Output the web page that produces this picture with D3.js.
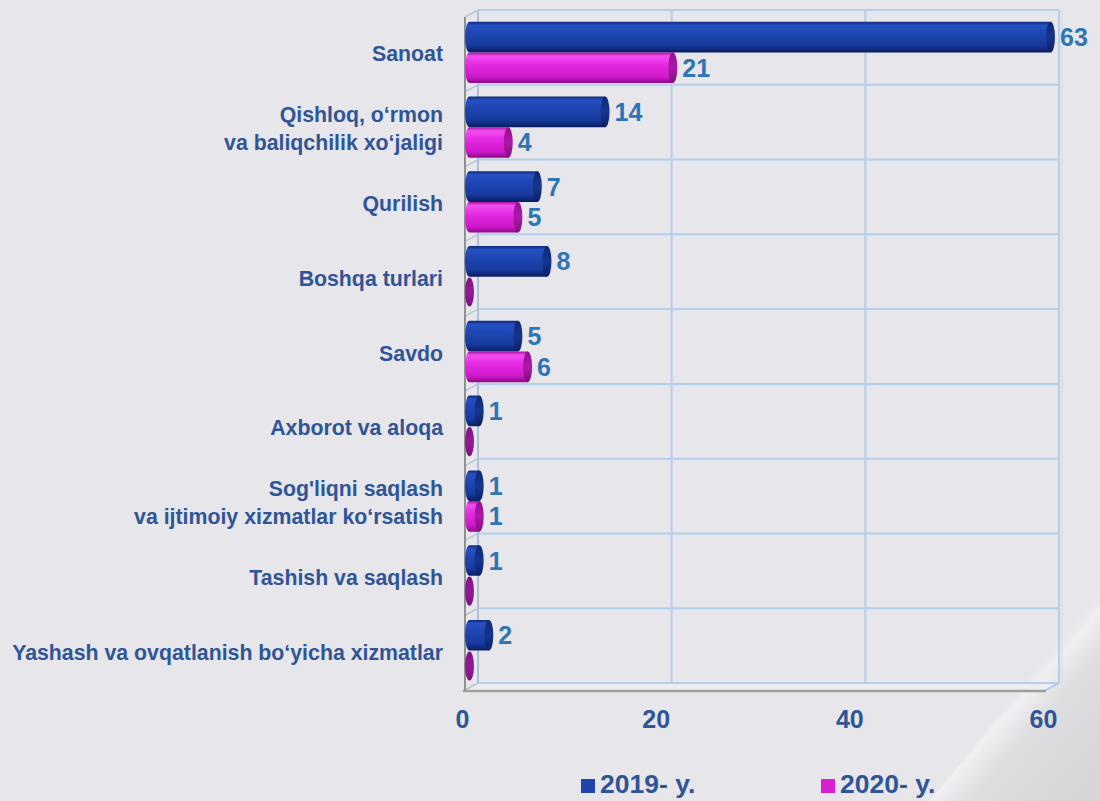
<!DOCTYPE html>
<html>
<head>
<meta charset="utf-8">
<script src="https://cdn.jsdelivr.net/npm/d3@7"></script>
<style>
  body{margin:0;background:#e6e6eb;}
  svg{display:block;font-family:"Liberation Sans", Arial, sans-serif;}
</style>
</head>
<body>
<div class="chart"></div>
<script>
// data
var categories=[
  "Sanoat",
  "Qishloq, o‘rmon\nva baliqchilik xo‘jaligi",
  "Qurilish",
  "Boshqa turlari",
  "Savdo",
  "Axborot va aloqa",
  "Sog'liqni saqlash\nva ijtimoiy xizmatlar ko‘rsatish",
  "Tashish va saqlash",
  "Yashash va ovqatlanish bo‘yicha xizmatlar"
];
var seriesNames=["2019- y.", "2020- y."];
var values2019=[63, 14, 7, 8, 5, 1, 1, 1, 2];
var values2020=[21, 4, 5, 0, 6, 0, 1, 0, 0];
var xTicks=[0, 20, 40, 60];

var width=1100;
var height=801;
var plot={left: 465, right: 1046, top: 17, bottom: 690};
var depth={dx: 13, dy: -7};

var x=d3.scaleLinear()
  .domain([0, 60])
  .range([plot.left, plot.right])
  .clamp(true);

var y=d3.scaleBand()
  .domain(categories)
  .range([plot.top-2, plot.bottom-2])
  .paddingInner(0.18)
  .paddingOuter(0.09);

var bandY=d3.scaleBand()
  .domain(categories)
  .range([plot.top, plot.bottom]);

var sub=d3.scaleBand()
  .domain(seriesNames)
  .range([0, y.bandwidth()]);

var canvas=d3.select(".chart").append("svg")
  .attr("width", width)
  .attr("height", height);

var defs=canvas.append("defs");

function vgrad(id, stops){
  var g=defs.append("linearGradient")
    .attr("id", id)
    .attr("x1", 0).attr("y1", 0).attr("x2", 0).attr("y2", 1);
  stops.forEach(function(s){
    g.append("stop").attr("offset", s[0]).attr("stop-color", s[1]);
  });
}
vgrad("blueBody", [[0, "#0d2a80"], [0.12, "#2850c2"], [0.35, "#1f47b4"], [0.75, "#193ba0"], [1, "#0a1d62"]]);
vgrad("blueCap", [[0, "#10296f"], [0.5, "#15368f"], [1, "#0b2060"]]);
vgrad("pinkBody", [[0, "#a8109f"], [0.12, "#f24ef0"], [0.4, "#e42ae2"], [0.8, "#cf18cb"], [1, "#8c0a88"]]);
vgrad("pinkCap", [[0, "#961094"], [0.5, "#ae18aa"], [1, "#80107c"]]);
vgrad("zeroCap", [[0, "#7e1482"], [0.5, "#951a98"], [1, "#7a1280"]]);

// slide background streak, bottom right
var streak=defs.append("linearGradient")
  .attr("id", "streak")
  .attr("gradientUnits", "userSpaceOnUse")
  .attr("x1", 1010).attr("y1", 690).attr("x2", 1100).attr("y2", 770);
streak.append("stop").attr("offset", 0).attr("stop-color", "#e6e6eb").attr("stop-opacity", 0);
streak.append("stop").attr("offset", 0.12).attr("stop-color", "#f0f0f2");
streak.append("stop").attr("offset", 0.35).attr("stop-color", "#dedee0");
streak.append("stop").attr("offset", 1).attr("stop-color", "#d6d6d8");

canvas.append("rect")
  .attr("width", width).attr("height", height)
  .attr("fill", "#e6e6eb");
canvas.append("path")
  .attr("d", "M1100,590 L1100,801 L930,801 Z")
  .attr("fill", "url(#streak)");

// floor
canvas.append("path")
  .attr("d", "M"+plot.left+","+plot.bottom+" L"+(plot.left+depth.dx)+","+(plot.bottom+depth.dy)+
    " L"+(plot.right+depth.dx)+","+(plot.bottom+depth.dy)+" L"+plot.right+","+plot.bottom+" Z")
  .attr("fill", "#eceef4");

// back wall gridlines
var grid=canvas.append("g").attr("class", "grid");
var bounds=categories.map(function(c){return bandY(c)}).concat([plot.bottom]);

grid.selectAll("line.h")
  .data(bounds)
  .enter()
  .append("line")
  .attr("class", "h")
  .attr("x1", plot.left+depth.dx)
  .attr("x2", plot.right+depth.dx)
  .attr("y1", function(d){return d+depth.dy})
  .attr("y2", function(d){return d+depth.dy})
  .attr("stroke", "#b7cde8")
  .attr("stroke-width", 2);

grid.selectAll("line.hs")
  .data(bounds.slice(0, -1))
  .enter()
  .append("line")
  .attr("class", "hs")
  .attr("x1", plot.left+depth.dx)
  .attr("x2", plot.right+depth.dx)
  .attr("y1", function(d){return d+depth.dy+2.5})
  .attr("y2", function(d){return d+depth.dy+2.5})
  .attr("stroke", "#dfe8f3")
  .attr("stroke-width", 1.5);

grid.selectAll("line.v")
  .data(xTicks)
  .enter()
  .append("line")
  .attr("class", "v")
  .attr("x1", function(d){return x(d)+depth.dx})
  .attr("x2", function(d){return x(d)+depth.dx})
  .attr("y1", plot.top+depth.dy)
  .attr("y2", plot.bottom+depth.dy)
  .attr("stroke", function(d){return d==0 ? "#a9c0dc" : "#b7cde8"})
  .attr("stroke-width", 2);

// band separators on the left side wall
grid.selectAll("line.d")
  .data(bounds)
  .enter()
  .append("line")
  .attr("class", "d")
  .attr("x1", plot.left)
  .attr("x2", plot.left+depth.dx)
  .attr("y1", function(d){return d})
  .attr("y2", function(d){return d+depth.dy})
  .attr("stroke", "#b7c6d6")
  .attr("stroke-width", 1.5);

// right edge of floor and front floor edge
canvas.append("line")
  .attr("x1", plot.right).attr("y1", plot.bottom)
  .attr("x2", plot.right+depth.dx).attr("y2", plot.bottom+depth.dy)
  .attr("stroke", "#b7cde8").attr("stroke-width", 2);
canvas.append("line")
  .attr("x1", plot.right+depth.dx+3).attr("y1", plot.top+depth.dy)
  .attr("x2", plot.right+depth.dx+3).attr("y2", plot.bottom+depth.dy)
  .attr("stroke", "#d3e0ef").attr("stroke-width", 1.5);
canvas.append("line")
  .attr("x1", plot.left-2).attr("y1", plot.bottom+1)
  .attr("x2", plot.right).attr("y2", plot.bottom+1)
  .attr("stroke", "#a09f98").attr("stroke-width", 2.5);
canvas.append("line")
  .attr("x1", plot.left).attr("y1", plot.top)
  .attr("x2", plot.left).attr("y2", plot.bottom+1)
  .attr("stroke", "#8f9290").attr("stroke-width", 2);

// bars as cylinders
var rx=4.5;
function cylinder(g, x0, x1, yTop, h, body, cap){
  var ry=h/2;
  var cx=x1+rx;
  if(x1>x0){
    g.append("path")
      .attr("d", "M"+(x0+rx)+","+yTop+" L"+cx+","+yTop+" L"+cx+","+(yTop+h)+" L"+(x0+rx)+","+(yTop+h)+
        " A"+rx+","+ry+" 0 0 1 "+(x0+rx)+","+yTop+" Z")
      .attr("fill", "url(#"+body+")");
  }
  g.append("ellipse")
    .attr("cx", cx)
    .attr("cy", yTop+ry)
    .attr("rx", rx)
    .attr("ry", ry)
    .attr("fill", "url(#"+cap+")");
  return cx+rx;
}

var rows=categories.map(function(c, i){
  return {cat: c, vals: [values2019[i], values2020[i]]};
});

var bars=canvas.append("g").attr("class", "bars");
rows.forEach(function(r){
  r.vals.forEach(function(v, k){
    var yTop=y(r.cat)+sub(seriesNames[k]);
    var h=sub.bandwidth();
    var body=k==0 ? "blueBody" : "pinkBody";
    var cap=k==0 ? "blueCap" : (v==0 ? "zeroCap" : "pinkCap");
    var h2=v==0 ? h*0.95 : h;
    var end=cylinder(bars, x(0), x(v), yTop+(h-h2)/2, h2, body, cap);
    if(v>0){
      bars.append("text")
        .text(v)
        .attr("x", end+5)
        .attr("y", yTop+h/2+9)
        .attr("fill", "#2e75b6")
        .attr("font-weight", "bold")
        .attr("font-size", "25px");
    }
  });
});

// category labels
var labels=canvas.append("g").attr("class", "cats");
categories.forEach(function(c){
  var lines=c.split("\n");
  var cy=bandY(c)+bandY.bandwidth()/2;
  lines.forEach(function(t, i){
    labels.append("text")
      .text(t)
      .attr("x", 443)
      .attr("y", cy+7+(i-(lines.length-1)/2)*28.5)
      .attr("text-anchor", "end")
      .attr("fill", "#2f5597")
      .attr("font-weight", "bold")
      .attr("font-size", "21.3px");
  });
});

// x axis labels
var xAxis=canvas.append("g")
  .attr("class", "x axis")
  .attr("transform", "translate(-3,"+(plot.bottom+20)+")")
  .call(d3.axisBottom(x).tickValues(xTicks).tickSize(0).tickPadding(0));
xAxis.select(".domain").remove();
xAxis.selectAll("text")
  .attr("fill", "#2f5597")
  .attr("font-family", "Liberation Sans, Arial, sans-serif")
  .attr("font-weight", "bold")
  .attr("font-size", "25px");

// legend
var legend=canvas.append("g").attr("class", "legend");
var legendX=[581, 821];
var legendColors=["#1f45ad", "#d91fd6"];
seriesNames.forEach(function(s, i){
  legend.append("rect")
    .attr("x", legendX[i]).attr("y", 779)
    .attr("width", 14).attr("height", 14)
    .attr("fill", legendColors[i]);
  legend.append("text")
    .text(s)
    .attr("x", legendX[i]+19)
    .attr("y", 793)
    .attr("fill", "#2f5597")
    .attr("font-weight", "bold")
    .attr("font-size", "26.5px");
});
</script>
</body>
</html>
